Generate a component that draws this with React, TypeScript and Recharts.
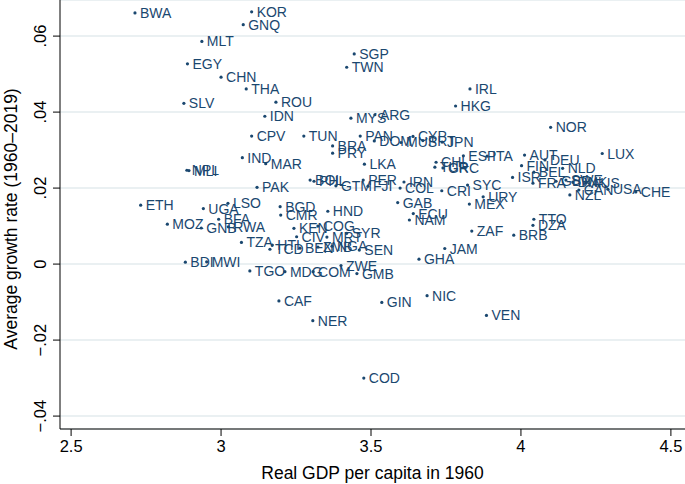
import { CartesianGrid, Scatter, ScatterChart, XAxis, YAxis } from 'recharts';

const NAVY = '#1a476f';
const FONT = '"Liberation Sans", Arial, Helvetica, sans-serif';

// country codes, log10 real GDP per capita in 1960, average growth 1960-2019
const codes = [
  'BWA', 'KOR', 'GNQ', 'MLT', 'EGY', 'CHN', 'THA', 'SLV', 'ROU', 'IDN',
  'SGP', 'TWN', 'IRL', 'HKG', 'MYS', 'ARG', 'NOR', 'CPV', 'TUN', 'PAN',
  'CYP', 'PRT', 'JPN', 'DOM', 'MUS', 'BRA', 'PRY', 'LKA', 'IND', 'MAR',
  'NPL', 'MLI', 'ESP', 'ITA', 'AUT', 'FIN', 'DEU', 'BEL', 'NLD', 'LUX',
  'CHL', 'TUR', 'GRC', 'ISR', 'FRA', 'GBR', 'SWE', 'DNK', 'AUS', 'CAN',
  'USA', 'CHE', 'NZL', 'PAK', 'BOL', 'PHL', 'GTM', 'PER', 'FJI', 'IRN',
  'COL', 'CRI', 'SYC', 'URY', 'MEX', 'GAB', 'ECU', 'NAM', 'ETH', 'UGA',
  'LSO', 'BFA', 'MOZ', 'GNB', 'RWA', 'BGD', 'CMR', 'HND', 'KEN', 'COG',
  'CIV', 'MRT', 'TZA', 'HTI', 'TCD', 'BEN', 'ZMB', 'NGA', 'SYR', 'SEN',
  'ZAF', 'TTO', 'DZA', 'BRB', 'JAM', 'GHA', 'BDI', 'MWI', 'TGO', 'MDG',
  'COM', 'ZWE', 'GMB', 'CAF', 'NER', 'GIN', 'NIC', 'VEN', 'COD',
];

const gdp1960 = [
  2.713, 3.102, 3.074, 2.936, 2.888, 3.0, 3.084, 2.876, 3.183, 3.146,
  3.444, 3.419, 3.83, 3.782, 3.433, 3.513, 4.099, 3.102, 3.276, 3.464,
  3.64, 3.673, 3.737, 3.511, 3.6, 3.372, 3.372, 3.478, 3.071, 3.149,
  2.886, 2.893, 3.808, 3.887, 4.012, 4.002, 4.08, 4.043, 4.139, 4.271,
  3.717, 3.713, 3.74, 3.972, 4.04, 4.117, 4.15, 4.173, 4.217, 4.193,
  4.29, 4.383, 4.163, 3.12, 3.297, 3.31, 3.383, 3.474, 3.49, 3.61,
  3.597, 3.736, 3.822, 3.874, 3.828, 3.589, 3.641, 3.628, 2.732, 2.941,
  3.023, 2.992, 2.821, 2.934, 3.024, 3.197, 3.199, 3.356, 3.243, 3.323,
  3.252, 3.353, 3.068, 3.171, 3.163, 3.263, 3.323, 3.37, 3.419, 3.461,
  3.836, 4.043, 4.04, 3.976, 3.746, 3.66, 2.881, 2.952, 3.096, 3.213,
  3.307, 3.4, 3.453, 3.193, 3.306, 3.536, 3.687, 3.885, 3.476,
];

const growth = [
  0.0661, 0.0664, 0.063, 0.0586, 0.0527, 0.0492, 0.0461, 0.0423, 0.0426, 0.0389,
  0.0553, 0.0518, 0.0461, 0.0416, 0.0384, 0.0393, 0.036, 0.0337, 0.0337, 0.0337,
  0.0336, 0.0325, 0.0321, 0.0324, 0.032, 0.0311, 0.0292, 0.0263, 0.028, 0.0264,
  0.0247, 0.0246, 0.0285, 0.0284, 0.0287, 0.0259, 0.0274, 0.0242, 0.0252, 0.0291,
  0.0268, 0.0255, 0.0253, 0.0228, 0.0213, 0.0218, 0.0221, 0.0216, 0.0214, 0.0195,
  0.0197, 0.019, 0.0182, 0.0202, 0.0221, 0.0218, 0.0206, 0.0221, 0.0205, 0.0216,
  0.02, 0.0193, 0.0208, 0.0177, 0.0158, 0.0162, 0.0133, 0.0116, 0.0155, 0.0146,
  0.016, 0.0118, 0.0105, 0.0095, 0.0098, 0.0151, 0.0129, 0.0139, 0.0094, 0.01,
  0.0072, 0.0071, 0.0057, 0.005, 0.0039, 0.0042, 0.0045, 0.0047, 0.0081, 0.0037,
  0.0087, 0.0118, 0.0102, 0.0076, 0.0041, 0.0013, 0.0005, 0.0006, -0.0018, -0.002,
  -0.002, -0.0004, -0.0025, -0.0097, -0.0149, -0.0101, -0.0083, -0.0135, -0.03,
];

const xTicks = [2.5, 3, 3.5, 4, 4.5];
const xTickLabels = ['2.5', '3', '3.5', '4', '4.5'];
const yTicks = [-0.04, -0.02, 0, 0.02, 0.04, 0.06];
const yTickLabels = ['\u2212.04', '\u2212.02', '0', '.02', '.04', '.06'];

const data = codes.map((code, i) => ({ code, x: gdp1960[i], y: growth[i] }));

const XTick = (props: any) => {
  const i = xTicks.indexOf(props.payload.value);
  return (
    <text x={props.x} y={452} textAnchor="middle" fontSize={16.5} fontFamily={FONT} fill="#000">
      {xTickLabels[i]}
    </text>
  );
};

const YTick = (props: any) => {
  const i = yTicks.indexOf(props.payload.value);
  return (
    <text
      x={46}
      y={props.y}
      transform={`rotate(-90 46 ${props.y})`}
      textAnchor="middle"
      fontSize={16.5}
      fontFamily={FONT}
      fill="#000"
    >
      {yTickLabels[i]}
    </text>
  );
};

const Point = (props: any) => (
  <g>
    <circle cx={props.cx} cy={props.cy} r={1.6} fill={NAVY} />
    <text x={props.cx + 5} y={props.cy + 5} fontSize={14} fontFamily={FONT} fill={NAVY}>
      {props.payload.code}
    </text>
  </g>
);

export default function App() {
  return (
    <div style={{ position: 'fixed', left: 0, top: 0, width: 685, height: 484, background: '#fff' }}>
      <ScatterChart width={685} height={484} margin={{ top: 0, right: 0, bottom: 5, left: 10 }}>
        <CartesianGrid vertical={false} stroke="#e3ebee" strokeWidth={1.5} />
        <XAxis
          type="number"
          dataKey="x"
          domain={[2.463, 4.547]}
          ticks={xTicks}
          allowDataOverflow
          height={50}
          tickSize={7}
          axisLine={{ stroke: '#000' }}
          tickLine={{ stroke: '#000' }}
          tick={XTick}
          label={() => (
            <text x={372.5} y={479} textAnchor="middle" fontSize={17.5} fontFamily={FONT} fill="#000">
              Real GDP per capita in 1960
            </text>
          )}
        />
        <YAxis
          type="number"
          dataKey="y"
          domain={[-0.0434, 0.0695]}
          ticks={yTicks}
          allowDataOverflow
          width={50}
          tickSize={7}
          axisLine={{ stroke: '#000' }}
          tickLine={{ stroke: '#000' }}
          tick={YTick}
          label={() => (
            <text
              x={17}
              y={219}
              transform="rotate(-90 17 219)"
              textAnchor="middle"
              fontSize={17.5}
              fontFamily={FONT}
              fill="#000"
            >
              Average growth rate (1960–2019)
            </text>
          )}
        />
        <Scatter data={data} shape={Point} isAnimationActive={false} />
      </ScatterChart>
    </div>
  );
}
